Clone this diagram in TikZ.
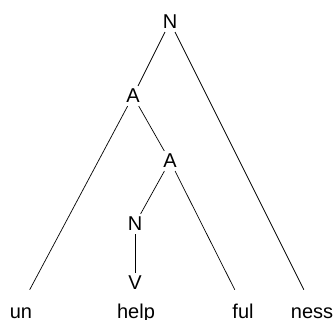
\documentclass[tikz,border=0pt]{standalone}
\usepackage{fontspec}
\setmainfont{Liberation Sans}
\usetikzlibrary{positioning}

\begin{document}
\begin{tikzpicture}[
        x=1pt, y=1pt,
        cat/.style={inner sep=3pt, font=\fontsize{20}{20}\selectfont},
        leaf/.style={inner sep=3pt, anchor=base, text height=26pt, font=\fontsize{20}{20}\selectfont},
        branch/.style={line width=0.7pt}
    ]
        \useasboundingbox (0,0) rectangle (334,320);

        % Categories
        \node[cat] (Ntop) at (170, 298) {N};
        \node[cat] (Aout) at (133, 224) {A};
        \node[cat] (Ain) at (170, 159) {A};
        \node[cat] (Nin) at (135, 96) {N};
        \node[cat] (Vin) at (135, 37) {V};

        % Morphemes
        \node[leaf] (un) at (21, 1) {un};
        \node[leaf] (help) at (136, 1) {help};
        \node[leaf] (ful) at (243, 1) {ful};
        \node[leaf] (ness) at (312, 1) {ness};

        % Branches
        \draw[branch] (Ntop) -- (Aout);
        \draw[branch] (Ntop) -- (ness);
        \draw[branch] (Aout) -- (un);
        \draw[branch] (Aout) -- (Ain);
        \draw[branch] (Ain) -- (Nin);
        \draw[branch] (Ain) -- (ful);
        \draw[branch] (Nin) -- (Vin);
    \end{tikzpicture}
\end{document}
